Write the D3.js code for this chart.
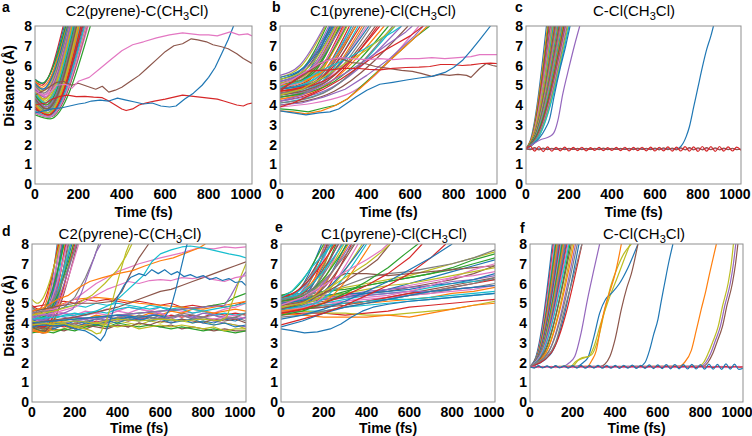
<!DOCTYPE html>
<html>
<head>
<meta charset="utf-8">
<script src="https://cdn.jsdelivr.net/npm/d3@7"></script>
<style>
  body { margin: 0; background: #fff; }
  text { font-family: "Liberation Sans", Arial, Helvetica, sans-serif; }
</style>
</head>
<body>
<svg id="chart" width="752" height="436"></svg>
<script>
// ---------- data (time in fs, distance in Angstrom) ----------
var xTicks = [0, 200, 400, 600, 800, 1000];
var yTicks = [0, 1, 2, 3, 4, 5, 6, 7, 8];
var bondStart = 1.78;
var vibT = [0,20,40,60,80,100,120,140,160,180,200,220,240,260,280,300,320,340,360,380,400,420,440,460,480,500,520,540,560,580,600,620,640,660,680,700,720,740,760,780,800,820,840,860,880,900,920,940,960,980,1000];
var gridT50 = [0,50,100,150,200,250,300,350,400,450,500,550,600,650,700,750,800,850,900,950,1000];
var gridT100 = [0,100,200,300,400,500,600,700,800,900,1000];

// panel a: quick escapes [d0, tMin, dMin, t at 8]
var aFast = [[4.2,50,3.7,180],[4.8,40,4.3,150],[3.6,60,3.4,210],[5.2,30,5.0,130],[4.5,50,3.9,175],[3.9,60,3.5,200],[5.0,40,4.6,145],[4.1,55,3.6,190],[3.7,65,3.4,235],[4.6,45,4.1,165],
  [5.3,35,5.1,135],[4.0,60,3.6,205],[4.4,50,3.8,185],[3.8,70,3.5,225],[4.9,40,4.5,155],[4.3,55,3.8,195],[3.6,65,3.4,245],[5.1,35,4.8,140],[4.7,45,4.2,170],[3.9,60,3.5,215],
  [4.2,50,3.7,190],[5.2,30,4.9,148],[3.5,70,3.3,255],[4.5,50,4.0,178],[4.0,60,3.6,200],[4.8,45,4.4,160],[3.7,60,3.4,230],[4.3,55,3.9,188],[5.0,35,4.7,152],[4.1,55,3.6,208],
  [3.8,65,3.5,220],[4.6,50,4.1,172],[5.3,30,5.1,142],[3.9,60,3.5,212],[4.4,50,3.9,182],[3.6,70,3.4,240],[4.9,40,4.5,158],[4.2,55,3.7,196],[4.7,45,4.3,166],[3.7,65,3.4,228],
  [5.1,35,4.8,150],[4.0,60,3.5,203],[4.5,50,4.0,180],[3.8,60,3.5,218],[4.8,45,4.4,163],[4.3,55,3.8,192],[3.6,65,3.4,238],[5.0,40,4.6,155],[4.1,60,3.6,198],[4.6,50,4.1,176]];
var aPink = [0,4.7,50,4.4,100,5.0,140,5.05,170,4.85,200,5.2,250,5.4,300,5.85,350,6.3,400,6.75,450,7.05,500,7.2,560,7.4,620,7.55,680,7.65,720,7.6,760,7.55,800,7.55,840,7.5,870,7.6,900,7.7,940,7.55,980,7.6,1000,7.5];
var aBrown = [0,4.5,50,4.8,100,5.15,130,5.2,170,5.0,200,5.1,240,4.95,280,4.8,310,4.95,340,4.65,370,4.75,400,4.9,440,5.2,480,5.5,520,5.9,560,6.3,600,6.7,640,7.0,680,7.1,720,7.35,750,7.3,790,7.2,820,7.05,860,6.95,890,6.85,930,6.6,960,6.35,1000,6.1];
var aBlue = [0,3.6,40,3.7,80,3.8,120,3.85,160,3.95,200,4.05,230,4.1,260,4.2,300,4.25,340,4.2,380,4.35,420,4.25,460,4.15,500,4.05,540,4.1,580,3.95,620,3.9,650,3.95,690,4.3,730,4.6,770,5.0,800,5.4,830,5.9,860,6.6,890,7.3,915,8];
var aRed = [0,4.0,50,4.1,80,4.3,110,4.42,150,4.5,190,4.42,230,4.44,270,4.4,310,4.37,340,4.2,370,4.0,400,3.8,420,3.72,450,3.8,480,4.0,510,4.1,550,4.2,600,4.3,640,4.4,680,4.5,720,4.45,760,4.4,800,4.35,840,4.3,870,4.2,900,4.1,930,4.0,960,3.95,980,4.05,1000,4.1];

// panel b: [d0, t1, d1, t at 8]
var bFast = [[5.0,120,5.6,230],[4.6,130,5.2,260],[5.3,100,5.8,215],[4.8,140,5.3,290],[4.4,150,4.9,330],[5.1,110,5.7,240],[4.9,130,5.4,270],[4.5,160,5.1,340],[5.4,100,6.0,210],[4.7,140,5.2,300],
  [5.2,120,5.8,250],[4.3,170,4.9,380],[5.0,130,5.5,280],[4.6,150,5.1,320],[5.5,90,6.0,205],[4.8,120,5.4,265],[4.4,180,5.0,400],[5.1,120,5.6,255],[4.9,150,5.4,310],[4.5,170,5.0,360],
  [5.3,110,5.9,235],[4.7,150,5.2,295],[5.0,140,5.5,275],[4.2,200,4.9,450],[5.2,100,5.7,225],[4.6,160,5.1,350],[4.9,120,5.5,260],[4.4,190,5.0,420],[5.1,130,5.6,270],[4.8,160,5.3,330],
  [5.4,110,5.9,245],[4.3,210,5.0,480],[5.0,150,5.5,305],[4.7,170,5.2,370],[5.2,130,5.7,285],[4.5,200,5.1,440],[4.9,140,5.4,300],[4.6,180,5.1,390],[5.3,120,5.8,255],[4.1,230,4.8,530],
  [4.8,190,5.3,410],[5.0,170,5.5,350],[4.4,220,5.0,500],[4.7,200,5.2,460],[4.2,240,4.9,560],[4.0,250,4.7,590],[3.9,300,4.5,640],[4.1,200,4.6,520]];
var bPink = [0,5.0,60,5.3,120,5.7,180,6.1,230,6.3,280,6.4,330,6.35,400,6.3,460,6.35,520,6.3,580,6.35,640,6.35,700,6.4,760,6.35,820,6.4,880,6.45,920,6.55,960,6.55,1000,6.55];
var bRedFlat = [0,4.7,60,5.2,120,5.7,180,5.75,230,5.78,290,5.85,350,5.86,410,5.8,460,5.78,520,5.85,580,5.9,640,5.92,690,5.95,740,6.05,790,6.05,840,6.0,880,6.03,930,6.1,970,6.12,1000,6.1];
var bRedRise = [0,3.9,60,4.1,120,4.4,200,4.8,280,5.3,360,5.9,440,6.5,520,7.0,600,7.5,660,8];
var bBrown = [0,4.8,80,5.3,160,5.9,220,6.3,280,6.35,330,6.15,390,6.1,440,5.95,500,5.85,560,5.75,610,5.7,650,5.6,700,5.45,740,5.55,780,5.5,820,5.55,860,5.5,880,5.4,920,5.85,950,6.1,980,6.0,1000,5.95];
var bBlue = [0,3.7,60,3.6,120,3.5,180,3.6,230,3.65,270,3.8,310,4.1,350,4.4,400,4.75,460,5.05,520,5.15,590,5.28,650,5.38,700,5.45,760,5.65,800,5.9,840,6.25,880,6.75,920,7.3,970,8];
var bGreen = [0,3.8,60,3.75,130,3.65,200,3.85,260,4.0,310,4.3,370,4.9,430,5.5,490,6.1,560,6.8,620,7.4,690,8];
var bOrange = [0,3.7,60,3.65,120,3.55,190,3.7,250,3.95,310,4.3,370,4.85,430,5.45,500,6.2,570,6.9,640,7.6,680,8];
var bPurple1 = [0,4.2,100,4.5,200,5.0,300,5.6,400,6.3,500,7.1,580,7.7,610,8];
var bPurple2 = [0,4.0,100,4.1,200,4.4,300,4.8,400,5.5,500,6.3,560,6.9,620,7.5,660,8];
var bCyan = [0,4.9,100,5.2,200,5.8,300,6.3,400,6.9,460,7.3,520,7.7,560,8];
var bOlive = [0,4.5,100,4.8,200,5.4,300,6.1,400,6.8,480,7.5,530,8];

// panel c: bond breaks [t bend, d bend, t at 8]
var cFast = [[20,2.2,95],[25,2.3,100],[20,2.1,104],[30,2.4,108],[25,2.2,112],[35,2.5,115],[20,2.1,118],[30,2.3,121],[25,2.2,124],[35,2.4,127],
  [30,2.2,130],[40,2.6,132],[25,2.1,135],[35,2.3,137],[30,2.2,139],[40,2.5,141],[35,2.3,143],[30,2.1,145],[45,2.6,147],[35,2.2,149],
  [40,2.4,151],[30,2.1,153],[45,2.5,155],[40,2.3,157],[35,2.2,159],[50,2.6,161],[40,2.3,163],[45,2.4,165],[35,2.1,167],[50,2.5,169],
  [45,2.3,171],[40,2.2,173],[55,2.6,176],[50,2.4,179],[45,2.2,182],[55,2.5,185],[50,2.3,188],[60,2.5,192],[55,2.3,196],[60,2.4,200]];
var cPurple = [0,1.78,30,2.0,70,2.25,110,2.4,130,2.6,150,3.3,170,4.5,200,5.9,225,7.0,250,8];
var cBlue = [0,1.78,30,2.0,60,2.3,90,2.8,110,3.3,130,4.4,160,5.9,185,7.0,205,8];
var cBlueLate = [0,1.78,700,1.78,720,1.9,745,2.4,760,2.9,780,3.9,800,4.9,820,5.9,840,6.8,860,7.5,872,8];
var cRedVib = [1.78,1.92,1.66,1.90,1.64,1.88,1.66,1.86,1.68,1.87, 1.67,1.85,1.69,1.86,1.68,1.84,1.70,1.85,1.69,1.84,
  1.70,1.85,1.69,1.86,1.68,1.85,1.69,1.86,1.68,1.87, 1.67,1.86,1.68,1.88,1.66,1.87,1.67,1.89,1.66,1.88,
  1.65,1.90,1.66,1.89,1.65,1.90,1.66,1.88,1.67,1.87, 1.70];
var cBrownVib = [1.78,1.74,1.84,1.73,1.82,1.74,1.81,1.75,1.80,1.74, 1.81,1.75,1.80,1.74,1.80,1.75,1.81,1.74,1.82,1.74,
  1.81,1.75,1.80,1.75,1.81,1.74,1.82,1.75,1.81,1.74, 1.82,1.73,1.83,1.74,1.82,1.73,1.83,1.73,1.84,1.73,
  1.83,1.73,1.84,1.74,1.83,1.73,1.82,1.74,1.81,1.74, 1.76];
var cPinkVib = [1.78,1.76,1.79,1.75,1.79,1.76,1.78,1.76,1.79,1.75, 1.78,1.76,1.79,1.76,1.79,1.75,1.79,1.76,1.78,1.76,
  1.79,1.75,1.79,1.76,1.78,1.76,1.79,1.75,1.79,1.76, 1.79,1.75,1.78,1.76,1.79,1.76,1.79,1.75,1.79,1.76,
  1.78,1.76,1.79,1.75,1.79,1.76,1.78,1.76,1.79,1.75, 1.77];

// panel d: [d0, tMin, dMin, t at 8]
var dFast = [[4.0,40,3.8,118],[4.5,30,4.3,122],[3.8,50,3.6,127],[4.9,30,4.7,125],[4.2,45,4.0,132],[3.7,55,3.5,138],[4.6,35,4.4,135],[4.1,50,3.9,142],[5.2,25,5.0,130],[3.9,55,3.7,148],
  [4.4,40,4.1,145],[3.6,60,3.5,155],[4.8,35,4.5,150],[4.0,50,3.8,158],[4.3,45,4.0,162],[3.8,60,3.6,168],[4.7,40,4.4,165],[4.1,55,3.9,172],[3.9,60,3.7,178],[4.5,45,4.2,180],
  [4.2,50,4.0,186],[3.7,65,3.5,192],[4.6,45,4.3,195],[4.0,55,3.8,200],[4.4,50,4.1,206],[3.9,60,3.7,212],[4.3,55,4.0,218],[4.8,40,4.6,210]];
var dStay = [
  [3.8,3.7,3.9,3.8,4.0,3.9,4.1,4.0,4.2,4.1,4.2,4.3,4.2,4.4,4.3,4.4,4.3,4.5,4.4,4.5,4.4],
  [4.0,3.9,4.1,4.0,4.1,4.2,4.0,4.2,4.1,4.3,4.2,4.1,4.3,4.2,4.4,4.3,4.2,4.1,4.0,3.9,3.8],
  [3.6,3.5,3.7,3.6,3.8,3.7,3.9,3.8,3.9,3.8,4.0,3.9,3.8,3.9,3.7,3.8,3.7,3.6,3.7,3.6,3.6],
  [4.4,4.5,4.3,4.5,4.4,4.6,4.5,4.7,4.6,4.8,4.7,4.6,4.8,4.7,4.6,4.5,4.6,4.5,4.7,4.8,5.0],
  [4.2,4.0,4.1,3.9,4.0,4.1,3.9,4.0,4.2,4.1,4.3,4.2,4.4,4.3,4.5,4.4,4.3,4.4,4.2,4.3,4.1],
  [3.9,3.8,3.6,3.7,3.9,3.8,4.0,3.9,4.1,4.0,3.9,4.1,4.0,4.2,4.1,4.0,4.1,3.9,4.0,3.9,3.7],
  [4.6,4.7,4.6,4.8,4.9,4.8,5.0,4.9,5.0,4.9,4.8,4.7,4.8,4.6,4.7,4.5,4.6,4.4,4.5,4.4,4.5],
  [3.7,3.8,3.7,3.9,3.8,4.0,3.9,4.1,4.0,4.2,4.1,4.3,4.2,4.1,4.2,4.0,4.1,4.0,4.2,4.1,4.3],
  [4.1,4.2,4.0,4.1,4.3,4.2,4.4,4.3,4.2,4.4,4.3,4.5,4.4,4.6,4.5,4.7,4.6,4.5,4.6,4.7,4.6],
  [3.5,3.6,3.5,3.7,3.6,3.8,3.9,3.8,4.0,3.9,3.8,3.9,3.8,3.7,3.8,3.7,3.6,3.7,3.6,3.5,3.6],
  [4.8,4.9,5.0,5.1,5.0,5.2,5.1,5.2,5.1,5.0,5.1,5.0,4.9,5.0,4.8,4.9,4.8,4.9,4.8,4.9,5.1],
  [4.3,4.2,4.4,4.3,4.1,4.2,4.3,4.1,4.3,4.4,4.2,4.4,4.5,4.3,4.4,4.3,4.5,4.4,4.3,4.2,4.3],
  [3.9,4.0,3.8,3.9,3.7,3.9,3.8,3.7,3.9,3.8,4.0,3.9,4.1,4.0,4.2,4.1,4.0,4.2,4.1,4.2,4.0],
  [4.5,4.4,4.6,4.5,4.3,4.4,4.5,4.4,4.6,4.5,4.7,4.6,4.5,4.3,4.4,4.2,4.3,4.2,4.3,4.4,4.2],
  [3.7,3.6,3.8,4.0,3.9,4.1,4.2,4.1,4.3,4.2,4.4,4.3,4.2,4.3,4.4,4.2,4.3,4.1,4.2,4.3,4.5],
  [4.0,4.1,3.9,4.0,3.8,3.9,4.0,3.9,3.8,3.9,3.7,3.8,3.9,3.8,3.9,3.8,3.7,3.8,3.6,3.7,3.7],
  [4.2,4.3,4.2,4.4,4.5,4.4,4.6,4.5,4.7,4.8,4.7,4.9,4.8,4.7,4.8,4.7,4.6,4.7,4.8,4.9,5.0],
  [3.8,3.9,4.0,3.9,4.1,4.0,4.2,4.3,4.2,4.3,4.2,4.1,4.2,4.0,4.1,4.2,4.0,3.9,4.0,3.8,3.9]];
var dOlive = [0,4.1,50,4.0,100,3.9,150,3.95,200,3.8,250,3.7,280,3.6,300,3.45,320,3.5,350,4.2,380,5.3,410,6.5,440,7.6,455,8];
var dBlueDip = [0,3.8,50,3.9,100,3.85,150,3.9,200,3.7,250,3.6,290,3.35,320,3.1,340,3.4,370,4.3,400,5.3,430,5.9,460,6.3,500,6.5,530,6.4,560,6.7,590,6.5,620,6.7,650,6.45,680,6.6,710,6.35,740,6.45,770,6.3,800,6.4,830,6.2,860,6.3,890,6.15,920,6.25,950,6.05,980,6.1,1000,5.9];
var dBlueSteep = [0,4.0,100,4.1,200,4.2,300,4.3,400,4.4,500,4.3,580,4.4,620,4.3,650,4.8,670,5.6,690,6.5,710,7.4,725,8];
var dGray = [0,4.5,50,4.6,100,4.6,150,4.8,200,5.3,250,6.3,290,7.3,312,8];
var dPurple = [0,4.3,50,4.4,100,4.4,150,4.5,190,4.7,230,5.5,270,6.7,300,7.6,322,8];
var dYellow = [0,4.4,100,4.6,200,4.9,280,5.4,340,6.0,400,6.7,440,7.4,467,8];
var dBrown = [0,4.6,100,4.8,200,5.0,300,5.0,380,5.1,420,5.6,460,6.5,500,7.3,545,8];
var dOrange = [0,4.6,60,4.8,120,5.2,170,5.4,220,5.8,270,6.1,330,6.3,400,6.5,470,6.65,530,6.9,600,7.15,660,7.3,720,7.55,780,7.8,810,8];
var dOrange2 = [0,4.4,100,4.8,200,5.2,300,5.3,400,5.2,500,5.0,600,4.9,700,4.8,800,4.7,900,4.9,1000,5.1];
var dCyan = [0,4.2,100,4.3,200,4.4,300,4.6,380,5.0,430,5.5,480,6.0,520,6.4,560,7.1,600,7.5,650,7.7,700,7.85,740,7.9,800,7.8,860,7.65,920,7.5,970,7.4,1000,7.3];
var dPinkHi = [0,4.5,100,4.7,200,5.2,300,6.0,400,6.6,500,7.0,600,7.3,700,7.55,780,7.8,850,7.75,900,7.85,950,7.8,1000,7.85];
var dPinkMid = [0,4.3,100,4.5,200,4.8,300,5.4,350,5.7,400,5.9,450,6.1,500,6.0,550,6.15,600,6.2,650,6.15,700,6.3,750,6.25,800,6.35,850,6.2,900,6.1,950,6.3,1000,6.4];
var dBrownR = [0,4.0,200,4.3,400,4.8,500,5.2,600,5.6,650,5.7,700,5.9,750,6.1,800,6.3,850,6.5,900,6.7,950,6.9,1000,7.1];
var dOliveR = [0,3.9,100,4.0,200,4.1,300,4.0,400,4.2,500,4.1,600,4.2,700,4.1,800,4.2,880,4.1,910,4.3,940,5.2,970,6.2,1000,7.0];
var dPurpleR = [0,4.2,100,4.1,200,4.3,300,4.2,400,4.4,500,4.5,600,4.6,700,4.7,800,4.8,900,4.9,930,5.4,960,6.0,1000,6.6];
var dGreenR = [0,4.0,100,4.1,200,4.2,300,4.3,400,4.4,500,4.5,600,4.6,700,4.7,800,4.8,900,5.0,950,5.3,1000,5.5];

// panel e: [d0, t1, d1, t at 8]
var eFast = [[5.2,60,5.4,190],[4.9,80,5.2,205],[5.4,50,5.6,200],[4.7,90,5.0,215],[5.0,70,5.3,210],[5.3,60,5.5,220],[4.8,90,5.1,228],[5.1,80,5.4,225],[4.6,100,4.9,240],[5.2,70,5.5,235],
  [4.9,90,5.2,245],[5.0,80,5.3,250],[4.7,100,5.0,258],[5.3,70,5.6,255],[4.8,100,5.1,265],[5.1,90,5.4,270],[4.6,110,4.9,280],[5.0,100,5.3,285],[4.9,110,5.2,295],[5.2,90,5.5,290],
  [4.7,120,5.0,305],[4.8,120,5.1,315],[5.1,110,5.4,310],[4.5,130,4.8,330],[5.0,120,5.3,325],[4.9,130,5.2,345],[4.6,140,4.9,360],[5.2,120,5.5,340],[4.8,150,5.1,380],[4.7,160,5.0,400],
  [5.0,150,5.3,390],[4.6,170,4.9,420]];
var eSlow = [
  [4.8,4.9,5.1,5.3,5.5,5.6,5.8,6.0,6.2,6.5,6.9],[5.0,5.1,5.2,5.4,5.5,5.7,5.9,6.1,6.3,6.4,6.6],[4.6,4.7,4.8,5.0,5.1,5.2,5.4,5.5,5.7,5.8,6.0],
  [5.2,5.3,5.5,5.8,6.0,6.2,6.4,6.7,7.0,7.3,7.6],[4.5,4.6,4.6,4.8,4.9,5.0,5.1,5.2,5.3,5.4,5.5],[4.9,5.0,5.2,5.3,5.5,5.7,6.0,6.3,6.6,6.9,7.2],
  [4.7,4.8,4.9,5.0,5.0,5.1,5.2,5.3,5.5,5.6,5.8],[5.3,5.4,5.6,5.7,5.9,6.1,6.3,6.5,6.7,7.0,7.3],[4.4,4.5,4.5,4.4,4.5,4.6,4.8,4.9,5.0,5.1,5.2],
  [5.1,5.2,5.3,5.4,5.6,5.7,5.8,5.9,6.1,6.2,6.4],[4.6,4.7,4.8,4.9,5.1,5.3,5.5,5.7,5.9,6.1,6.3],[4.9,5.0,5.0,5.1,5.2,5.3,5.4,5.5,5.6,5.7,5.9],
  [5.0,5.2,5.5,5.9,6.3,6.5,6.6,6.8,7.0,7.3,7.7],[4.7,4.6,4.5,4.5,4.4,4.4,4.5,4.6,4.7,4.9,5.1],[4.8,4.9,5.0,5.2,5.4,5.5,5.6,5.8,6.0,6.1,6.2],
  [5.2,5.3,5.4,5.5,5.5,5.6,5.7,5.9,6.0,6.2,6.5],[4.5,4.4,4.3,4.3,4.3,4.4,4.3,4.5,4.7,4.9,5.0],[4.9,5.1,5.3,5.6,5.9,6.1,6.3,6.5,6.8,7.2,7.5],
  [4.6,4.7,4.9,5.0,5.1,5.3,5.5,5.6,5.8,6.0,6.2],[5.1,5.2,5.2,5.3,5.4,5.5,5.6,5.6,5.7,5.8,5.9],[5.4,5.5,6.0,6.5,6.5,6.4,6.5,6.6,6.7,6.8,6.9],
  [4.8,4.8,4.9,5.1,5.3,5.4,5.6,5.9,6.3,6.7,7.0],[4.3,4.4,4.6,4.8,5.0,5.2,5.4,5.6,5.8,6.0,6.3],[5.0,5.1,5.3,5.5,5.7,5.9,6.0,6.2,6.4,6.6,6.8],
  [4.7,4.8,4.9,5.0,5.1,5.2,5.2,5.3,5.4,5.5,5.6],[3.8,4.1,4.5,4.8,5.0,5.2,5.4,5.6,5.7,5.8,5.9]];
var eBrown = [0,4.7,100,5.0,200,5.5,300,6.1,400,6.8,450,7.2,510,8];
var ePink = [0,4.9,100,5.3,200,5.9,300,6.6,400,7.2,470,7.7,500,8];
var eGreen = [0,4.4,100,4.6,200,5.0,300,5.5,400,6.1,500,6.8,580,7.5,640,8];
var eRed = [0,4.5,100,4.7,200,5.0,300,5.4,400,5.9,500,6.5,600,7.3,660,8];
var eRed2 = [0,3.9,100,4.2,200,4.5,300,4.9,400,5.4,500,5.9,600,6.5,700,7.3,770,8];
var eBlue = [0,4.2,100,4.4,200,4.7,300,5.1,400,5.6,500,6.1,600,6.7,700,7.3,800,8];
var eOlive = [0,4.8,100,5.0,200,5.6,300,6.3,400,7.0,470,7.6,510,8];
var eCyan = [0,5.3,50,5.6,100,6.2,150,6.9,200,7.5,240,8];
var eBlueLow = [0,3.7,60,3.6,110,3.5,170,3.55,230,3.7,280,3.95,330,4.3,380,4.6,430,4.8,500,4.95,600,5.1,700,5.2,800,5.3,900,5.4,1000,5.5];

// panel f: [t bend, d bend, t at 8]
var fFast = [[25,2.2,105],[30,2.3,110],[25,2.1,114],[35,2.4,118],[30,2.2,121],[40,2.5,124],[30,2.1,127],[35,2.3,130],[40,2.4,133],[35,2.2,136],
  [45,2.5,139],[40,2.3,142],[35,2.1,145],[45,2.4,148],[40,2.2,151],[50,2.5,154],[45,2.3,157],[40,2.1,160],[50,2.4,163],[45,2.2,166],
  [55,2.5,170],[50,2.3,174],[60,2.6,178],[55,2.4,183],[60,2.3,188],[65,2.5,194],[70,2.4,200],[75,2.5,207],[80,2.4,214],[90,2.6,222],
  [95,2.4,230],[100,2.5,244]];
var fGray = [0,1.78,30,2.0,80,2.3,120,3.0,160,4.6,200,6.2,244,8];
var fPurple = [0,1.78,150,1.78,180,1.95,210,2.3,240,3.5,270,5.2,300,6.7,327,8];
var fOlive = [0,1.78,190,1.8,215,2.05,245,2.25,275,2.3,300,2.8,330,3.9,370,5.2,410,6.3,445,7.3,470,8];
var fTeal = [0,1.78,220,1.8,250,2.0,272,2.25,300,3.3,327,4.5,355,5.2,382,5.5,420,6.0,460,6.8,507,8];
var fOrange = [0,1.78,270,1.8,290,2.1,311,2.6,330,3.7,350,4.7,375,5.6,400,6.5,429,8];
var fYellow = [0,1.78,200,1.8,225,2.1,260,2.25,290,2.4,320,3.2,350,4.6,380,5.9,410,6.8,440,7.5,476,8];
var fBrown = [0,1.78,330,1.8,350,1.9,375,2.3,400,3.2,429,4.7,455,5.8,476,6.5,507,8];
var fBlueLate = [0,1.78,515,1.8,540,2.0,562,2.65,580,3.4,601,4.2,616,5.1,632,6.0,650,7.0,671,8];
var fOrangeLate = [0,1.78,700,1.8,725,2.0,757,2.6,780,3.6,804,4.7,825,5.6,843,6.5,860,7.3,875,8];
var fOliveLate = [0,1.78,790,1.8,815,2.0,836,2.45,860,3.1,883,3.8,905,4.9,930,6.0,945,7.0,955,8];
var fPurpleLate = [0,1.78,800,1.8,825,2.0,848,2.45,870,3.1,893,3.8,915,4.9,940,6.0,955,7.0,966,8];
var fBrownLate = [0,1.78,810,1.8,835,2.0,858,2.45,880,3.1,903,3.8,925,4.9,950,6.0,965,7.0,976,8];
var fBlueVib = [1.78,1.72,1.84,1.73,1.83,1.72,1.84,1.73,1.83,1.72, 1.84,1.72,1.85,1.71,1.84,1.72,1.85,1.71,1.86,1.71,
  1.85,1.70,1.86,1.71,1.87,1.70,1.86,1.70,1.88,1.69, 1.88,1.69,1.89,1.68,1.90,1.68,1.89,1.67,1.91,1.67,
  1.90,1.66,1.92,1.66,1.91,1.65,1.93,1.66,1.92,1.65, 1.70];
var fRedVib = [1.78,1.76,1.80,1.75,1.81,1.76,1.80,1.75,1.81,1.76, 1.80,1.75,1.81,1.76,1.80,1.75,1.81,1.76,1.80,1.75,
  1.81,1.76,1.80,1.75,1.81,1.76,1.80,1.75,1.81,1.76, 1.80,1.75,1.81,1.76,1.80,1.75,1.81,1.76,1.80,1.75,
  1.81,1.76,1.80,1.75,1.81,1.76,1.80,1.75,1.81,1.76, 1.78];
var fPinkVib = [1.77,1.80,1.74,1.81,1.75,1.80,1.74,1.81,1.75,1.80, 1.74,1.81,1.75,1.80,1.74,1.81,1.75,1.80,1.74,1.81,
  1.75,1.80,1.74,1.81,1.75,1.80,1.74,1.81,1.75,1.80, 1.74,1.81,1.75,1.80,1.74,1.81,1.75,1.80,1.74,1.81,
  1.75,1.80,1.74,1.81,1.75,1.80,1.74,1.81,1.75,1.80, 1.77];

// ---------- helpers ----------
var col = d3.schemeCategory10;
var mono = d3.curveMonotoneX, lin = d3.curveLinear;

function pairs(flat) {
    var out = [];
    for (var i = 0; i < flat.length; i += 2) out.push([flat[i], flat[i + 1]]);
    return out;
}
function fastLine(r) { return [[0, r[0]], [r[1], r[2]], [r[3], 8]]; }
function bondLine(r) { return [[0, bondStart], [r[0], r[1]], [r[2], 8]]; }
function gridLine(vals, grid) {
    return vals.map(function(v, i) { return [grid[i], v]; });
}

// ---------- panels ----------
var panels = [
    {id: 'a', x0: 35, x1: 252, y0: 26, y1: 184, lx: 2, ly: 12, tx: 137, ty: 16,
     title: ['C2(pyrene)-C(CH', '3', 'Cl)'], ylab: 86},
    {id: 'b', x0: 280, x1: 497, y0: 26, y1: 184, lx: 272, ly: 12, tx: 383, ty: 16,
     title: ['C1(pyrene)-Cl(CH', '3', 'Cl)']},
    {id: 'c', x0: 526, x1: 741, y0: 26, y1: 184, lx: 515, ly: 12, tx: 634, ty: 16,
     title: ['C-Cl(CH', '3', 'Cl)']},
    {id: 'd', x0: 32, x1: 246, y0: 244, y1: 402, lx: 2, ly: 236, tx: 130, ty: 239,
     title: ['C2(pyrene)-C(CH', '3', 'Cl)'], ylab: 316},
    {id: 'e', x0: 281, x1: 495, y0: 244, y1: 402, lx: 275, ly: 232, tx: 394, ty: 239,
     title: ['C1(pyrene)-Cl(CH', '3', 'Cl)']},
    {id: 'f', x0: 530, x1: 743, y0: 244, y1: 402, lx: 520, ly: 233, tx: 644, ty: 239,
     title: ['C-Cl(CH', '3', 'Cl)']}
];

var lines = {a: [], b: [], c: [], d: [], e: [], f: []};
function add(key, pts, c, curve) { lines[key].push({pts: pts, c: c, curve: curve}); }

aFast.forEach(function(r, i) { add('a', fastLine(r), col[i % 10], mono); });
add('a', pairs(aRed), col[3], lin);
add('a', pairs(aBlue), col[0], lin);
add('a', pairs(aBrown), col[5], lin);
add('a', pairs(aPink), col[6], lin);

bFast.forEach(function(r, i) { add('b', fastLine(r), col[i % 10], mono); });
add('b', pairs(bPurple1), col[4], lin);
add('b', pairs(bPurple2), col[4], lin);
add('b', pairs(bCyan), col[9], lin);
add('b', pairs(bOlive), col[8], lin);
add('b', pairs(bGreen), col[2], lin);
add('b', pairs(bOrange), col[1], lin);
add('b', pairs(bRedRise), col[3], lin);
add('b', pairs(bBrown), col[5], lin);
add('b', pairs(bRedFlat), col[3], lin);
add('b', pairs(bPink), col[6], lin);
add('b', pairs(bBlue), col[0], lin);

cFast.forEach(function(r, i) { add('c', bondLine(r), col[i % 10], mono); });
add('c', pairs(cBlue), col[0], mono);
add('c', pairs(cPurple), col[4], mono);
add('c', pairs(cBlueLate), col[0], mono);
add('c', gridLine(cPinkVib, vibT), col[6], mono);
add('c', gridLine(cBrownVib, vibT), col[5], mono);
add('c', gridLine(cRedVib, vibT), col[3], mono);

dStay.forEach(function(v, i) { add('d', gridLine(v, gridT50), col[(i + 3) % 10], lin); });
dFast.forEach(function(r, i) { add('d', fastLine(r), col[i % 10], mono); });
add('d', pairs(dOrange2), col[1], lin);
add('d', pairs(dGreenR), col[2], lin);
add('d', pairs(dPurpleR), col[4], lin);
add('d', pairs(dOliveR), col[8], lin);
add('d', pairs(dBrownR), col[5], lin);
add('d', pairs(dPinkMid), col[6], lin);
add('d', pairs(dPinkHi), col[6], lin);
add('d', pairs(dGray), col[7], lin);
add('d', pairs(dPurple), col[4], lin);
add('d', pairs(dYellow), col[8], lin);
add('d', pairs(dOlive), col[8], lin);
add('d', pairs(dBrown), col[5], lin);
add('d', pairs(dOrange), col[1], lin);
add('d', pairs(dCyan), col[9], lin);
add('d', pairs(dBlueSteep), col[0], lin);
add('d', pairs(dBlueDip), col[0], lin);

eSlow.forEach(function(v, i) { add('e', gridLine(v, gridT100), col[(i + 5) % 10], lin); });
eFast.forEach(function(r, i) { add('e', fastLine(r), col[i % 10], mono); });
add('e', pairs(eBrown), col[5], lin);
add('e', pairs(ePink), col[6], lin);
add('e', pairs(eGreen), col[2], lin);
add('e', pairs(eRed), col[3], lin);
add('e', pairs(eRed2), col[3], lin);
add('e', pairs(eBlue), col[0], lin);
add('e', pairs(eOlive), col[8], lin);
add('e', pairs(eCyan), col[9], lin);
add('e', pairs(eBlueLow), col[0], lin);

fFast.forEach(function(r, i) { add('f', bondLine(r), col[(i * 3) % 10], mono); });
add('f', pairs(fGray), col[7], mono);
add('f', pairs(fPurple), col[4], mono);
add('f', pairs(fOlive), col[8], mono);
add('f', pairs(fTeal), col[0], mono);
add('f', pairs(fYellow), col[8], mono);
add('f', pairs(fOrange), col[1], mono);
add('f', pairs(fBrown), col[5], mono);
add('f', pairs(fBlueLate), col[0], mono);
add('f', pairs(fOrangeLate), col[1], mono);
add('f', pairs(fOliveLate), col[8], mono);
add('f', pairs(fPurpleLate), col[4], mono);
add('f', pairs(fBrownLate), col[5], mono);
add('f', gridLine(fPinkVib, vibT), col[6], mono);
add('f', gridLine(fRedVib, vibT), col[3], mono);
add('f', gridLine(fBlueVib, vibT), col[0], mono);

// ---------- drawing ----------
var svg = d3.select("#chart");
var defs = svg.append("defs");

panels.forEach(function(p) {
    var x = d3.scaleLinear().domain([0, 1000]).range([p.x0, p.x1]);
    var y = d3.scaleLinear().domain([0, 8]).range([p.y1, p.y0]);
    var g = svg.append("g").attr("class", "panel-" + p.id);

    defs.append("clipPath").attr("id", "clip-" + p.id)
        .append("rect")
        .attr("x", p.x0).attr("y", p.y0)
        .attr("width", p.x1 - p.x0).attr("height", p.y1 - p.y0);

    var plot = g.append("g").attr("clip-path", "url(#clip-" + p.id + ")");
    lines[p.id].forEach(function(L) {
        var gen = d3.line()
            .x(function(d) { return x(d[0]); })
            .y(function(d) { return y(d[1]); })
            .curve(L.curve);
        plot.append("path")
            .attr("d", gen(L.pts))
            .attr("fill", "none")
            .attr("stroke", L.c)
            .attr("stroke-width", 1.2)
            .attr("stroke-linejoin", "round");
    });

    // frame
    g.append("rect")
        .attr("x", p.x0).attr("y", p.y0)
        .attr("width", p.x1 - p.x0).attr("height", p.y1 - p.y0)
        .attr("fill", "none").attr("stroke", "#8f8f8f").attr("stroke-width", 1);

    // tick labels (the last one is pulled in a little, as in the figure)
    g.selectAll(".xt").data(xTicks).enter().append("text")
        .attr("x", function(d) { return d === 1000 ? x(d) - 6 : x(d); })
        .attr("y", p.y1 + 15)
        .attr("text-anchor", "middle")
        .attr("font-size", 14).attr("font-weight", "bold")
        .text(function(d) { return d; });
    g.selectAll(".yt").data(yTicks).enter().append("text")
        .attr("x", p.x0 - 3)
        .attr("y", function(d) { return y(d) + 5; })
        .attr("text-anchor", "end")
        .attr("font-size", 14).attr("font-weight", "bold")
        .text(function(d) { return d; });

    // axis titles
    g.append("text")
        .attr("x", (p.x0 + p.x1) / 2)
        .attr("y", p.y0 < 100 ? p.y1 + 33 : p.y1 + 31)
        .attr("text-anchor", "middle")
        .attr("font-size", 14).attr("font-weight", "bold")
        .text("Time (fs)");
    if (p.ylab) {
        g.append("text")
            .attr("transform", "translate(14," + p.ylab + ") rotate(-90)")
            .attr("text-anchor", "middle")
            .attr("font-size", 14).attr("font-weight", "bold")
            .text("Distance (Å)");
    }

    // panel title with subscript
    var t = g.append("text")
        .attr("x", p.tx).attr("y", p.ty)
        .attr("text-anchor", "middle")
        .attr("font-size", 15);
    t.append("tspan").text(p.title[0]);
    t.append("tspan").attr("dy", 4).attr("font-size", 11).text(p.title[1]);
    t.append("tspan").attr("dy", -4).text(p.title[2]);

    // panel letter
    g.append("text")
        .attr("x", p.lx).attr("y", p.ly)
        .attr("font-size", 14).attr("font-weight", "bold")
        .text(p.id);
});
</script>
</body>
</html>
